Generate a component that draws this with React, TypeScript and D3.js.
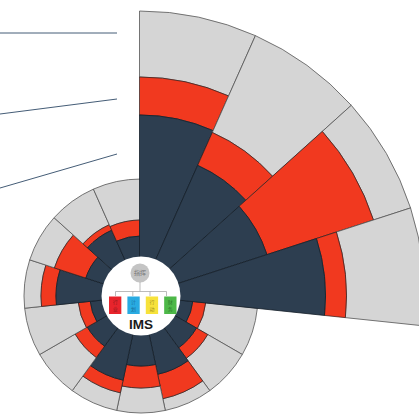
import React from "react";
import * as d3 from "d3";

const sectors = d3.range(15);
const navyValues = [181, 143, 134, 186, 52, 64, 80, 70, 86, 62, 51, 85, 58, 72, 60];
const redValues = [219, 179, 246, 207, 65, 77, 105, 92, 99, 76, 63, 100, 91, 78, 76];
const grayValues = [285, 285, 285, 285, 117, 117, 117, 117, 117, 117, 117, 117, 117, 117, 117];

const boxLabels = ["行业", "计划", "行动", "财务"];
const boxColors = ["#e8242c", "#29abe2", "#f7e23b", "#4db848"];
const boxTextColors = ["#8a1a1c", "#1a6f99", "#a08f20", "#2b7a2c"];
const leaderLines = [
  [[0, 33], [117, 33]],
  [[0, 114], [117, 99]],
  [[0, 188], [117, 154]],
];

const NAVY = "#2d3e50";
const RED = "#f1391f";
const GRAY = "#d5d5d5";
const cjk = "'Noto Sans CJK SC', sans-serif";

export default function App() {
  const r = d3.scaleLinear().domain([0, 300]).range([0, 300]);
  const a = d3.scaleBand<number>().domain(sectors).range([0, 2 * Math.PI]);
  const arc = d3.arc();
  const path = (i: number, r0: number, r1: number) =>
    arc({
      innerRadius: r(r0),
      outerRadius: r(r1),
      startAngle: a(i)!,
      endAngle: a(i)! + a.bandwidth(),
    }) as string;
  const line = d3.line();
  const boxX = d3.scaleBand<number>().domain(d3.range(4)).range([109, 176.5]).paddingInner(0.33).paddingOuter(0).align(0);
  const wedge = (i: number) => (
    <g key={i}>
      <path d={path(i, redValues[i], grayValues[i])} fill={GRAY} stroke="#555" strokeWidth={0.8} />
      <path d={path(i, navyValues[i], redValues[i])} fill={RED} stroke="#2a2020" strokeWidth={0.7} />
      <path d={path(i, 0, navyValues[i])} fill={NAVY} stroke="#141e28" strokeWidth={0.8} />
    </g>
  );

  return (
    <svg
      width={419}
      height={414}
      style={{ position: "absolute", left: 0, top: 0, background: "#fff" }}
    >
      {leaderLines.map((l, i) => (
        <path key={i} d={line(l as [number, number][]) as string} fill="none" stroke="#2f4a66" strokeWidth={0.9} />
      ))}
      <g transform="translate(141,296)">{sectors.slice(4).map(wedge)}</g>
      <g transform="translate(139.5,296)">{sectors.slice(0, 4).map(wedge)}</g>
      <circle cx={141} cy={296} r={39.5} fill="#fff" />
      <circle cx={140} cy={273} r={9.5} fill="#c4c4c4" />
      <text x={140} y={275.2} textAnchor="middle" fontSize={6} fill="#777" fontFamily={cjk}>指挥</text>
      <g fill="none" stroke="#aaa" strokeWidth={0.8}>
        <path d="M140 282V291.5M115.5 296V291.5H166.5V296M132.8 291.5V296M150 291.5V296" />
      </g>
      {boxLabels.map((t, i) => {
        const x = boxX(i)!;
        const w = boxX.bandwidth();
        const mid = x + w / 2;
        return (
          <g key={t}>
            <rect x={x} y={296.5} width={w} height={17.5} fill={boxColors[i]} />
            <text x={mid} y={303.6} textAnchor="middle" fontSize={5} fill={boxTextColors[i]} fontFamily={cjk}>{t[0]}</text>
            <text x={mid} y={311.1} textAnchor="middle" fontSize={5} fill={boxTextColors[i]} fontFamily={cjk}>{t[1]}</text>
          </g>
        );
      })}
      <text x={141} y={328.5} textAnchor="middle" fontSize={13.5} fontWeight={700} fill="#1a1a1a" fontFamily="'Liberation Sans', sans-serif">IMS</text>
    </svg>
  );
}
